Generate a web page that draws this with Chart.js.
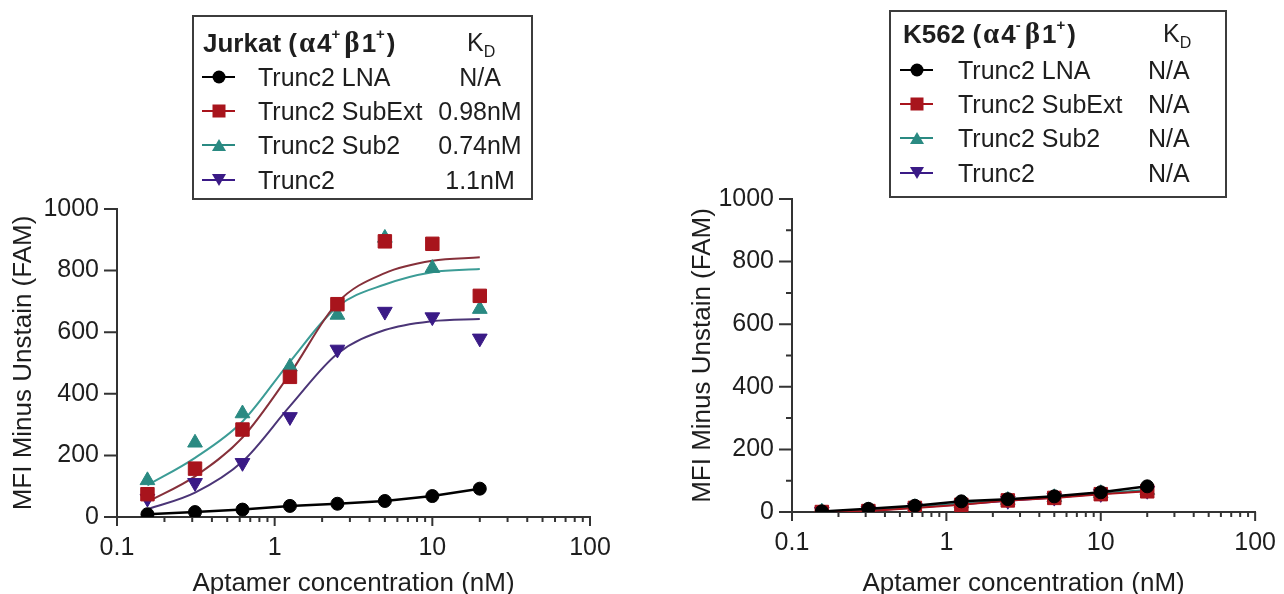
<!DOCTYPE html>
<html>
<head>
<meta charset="utf-8">
<script src="https://cdn.jsdelivr.net/npm/chart.js@4/dist/chart.umd.min.js"></script>
<style>
  body { margin: 0; width: 1284px; height: 594px; overflow: hidden; position: relative; background: #fff;
         font-family: "Liberation Sans", Arial, sans-serif; color: #1e1e1e; }
  canvas { position: absolute; top: 0; }
  .box { position: absolute; border: 2px solid #3c3c3c; box-sizing: border-box; }
  .txt { position: absolute; font-size: 25px; line-height: 1; white-space: nowrap; transform: translateY(-50%); }
  .txt b { font-size: 26px; }
  .gk { font-family: "Liberation Serif", serif; font-size: 29px; margin: 0 2px; }
  .txt sup { font-size: 15px; line-height: 0; position: relative; top: -3px; margin-right: 2px; }
  .txt sub { font-size: 16px; line-height: 0; }
  .sym { position: absolute; height: 2px; transform: translateY(-50%); }
  .mk { position: absolute; left: 50%; top: 50%; transform: translate(-50%, -50%); }
</style>
</head>
<body>
<canvas id="jurkat" width="640" height="594" style="left:0"></canvas>
<canvas id="k562" width="644" height="594" style="left:640px"></canvas>

<script>
// concentrations used in both titrations (nM)
const conc = [0.156, 0.3125, 0.625, 1.25, 2.5, 5, 10, 20];

const seriesNames = ['Trunc2 LNA', 'Trunc2 SubExt', 'Trunc2 Sub2', 'Trunc2'];
const kdJurkat = ['N/A', '0.98nM', '0.74nM', '1.1nM'];
const kdK562 = ['N/A', 'N/A', 'N/A', 'N/A'];

// Jurkat, measured MFI
const jurkatLNA = [9, 16, 24, 36, 43, 52, 68, 92];
const jurkatSubExt = [74, 157, 284, 455, 691, 895, 887, 718];
const jurkatSub2 = [119, 241, 336, 488, 656, 906, 808, 675];
const jurkatTrunc2 = [60, 111, 176, 325, 544, 667, 649, 580];

// Jurkat, binding fits
const fitSubExt = [49, 132, 258, 465, 696, 792, 832, 843];
const fitSub2 = [103, 192, 310, 504, 683, 755, 795, 805];
const fitTrunc2 = [25, 79, 180, 360, 530, 607, 636, 643];

// K562, measured MFI
const k562LNA = [2, 10, 20, 34, 41, 50, 63, 82];
const k562SubExt = [0, 3, 13, 23, 37, 45, 57, 66];
const k562Sub2 = [1, 5, 15, 27, 38, 47, 60, 70];
const k562Trunc2 = [1, 4, 14, 25, 36, 46, 58, 68];

const xTicks = [0.1, 1, 10, 100];
const xTickLabels = ['0.1', '1', '10', '100'];
const xMinor = [0.2, 0.3, 0.4, 0.5, 0.6, 0.7, 0.8, 0.9, 2, 3, 4, 5, 6, 7, 8, 9, 20, 30, 40, 50, 60, 70, 80, 90];
const yTicks = [0, 200, 400, 600, 800, 1000];
const yTickLabels = ['0', '200', '400', '600', '800', '1000'];
const yMinorK562 = [100, 300, 500, 700, 900];

const colors = ['#000000', '#a8141c', '#2a8a82', '#3a1a86'];
const fitColors = ['#000000', '#86303a', '#3c9c96', '#4b3577'];
const styles = ['circle', 'rect', 'triangle', 'triangle'];
const rotations = [0, 0, 0, 180];
const radii = [6.5, 9.5, 8.5, 8.5];

const pts = ys => conc.map((c, i) => ({ x: c, y: ys[i] }));

// tick marks drawn by hand so major and minor marks can differ in length
const tickMarks = {
  id: 'tickMarks',
  afterDraw(chart, args, o) {
    const ctx = chart.ctx, x = chart.scales.x, y = chart.scales.y;
    ctx.save();
    ctx.strokeStyle = '#333';
    ctx.lineWidth = 2;
    ctx.beginPath();
    xTicks.forEach(v => { const p = x.getPixelForValue(v); ctx.moveTo(p, x.top); ctx.lineTo(p, x.top + 9); });
    xMinor.forEach(v => { const p = x.getPixelForValue(v); ctx.moveTo(p, x.top); ctx.lineTo(p, x.top + 5); });
    yTicks.forEach(v => { const p = y.getPixelForValue(v); ctx.moveTo(y.right, p); ctx.lineTo(y.right - 13, p); });
    (o.yMinor || []).forEach(v => { const p = y.getPixelForValue(v); ctx.moveTo(y.right, p); ctx.lineTo(y.right - 6, p); });
    ctx.stroke();
    ctx.restore();
  }
};

function scatterSet(i, ys, line) {
  return {
    data: pts(ys),
    showLine: line,
    borderColor: colors[i],
    backgroundColor: colors[i],
    borderWidth: i === 0 ? 2.5 : 2,
    pointStyle: styles[i],
    pointRotation: rotations[i],
    pointRadius: radii[i],
    pointBorderWidth: 1,
    pointBackgroundColor: colors[i],
    pointBorderColor: colors[i]
  };
}

function fitSet(i, ys) {
  return {
    data: pts(ys),
    showLine: true,
    borderColor: fitColors[i],
    borderWidth: 2,
    pointRadius: 0,
    cubicInterpolationMode: 'monotone'
  };
}

function makeOptions(pad, xHeight, yWidth, yTitlePad, yMinor) {
  const font = { family: '"Liberation Sans", Arial, sans-serif', size: 25 };
  return {
    responsive: false,
    animation: false,
    devicePixelRatio: 1,
    layout: { padding: pad },
    plugins: { legend: { display: false }, tooltip: { enabled: false }, tickMarks: { yMinor: yMinor } },
    scales: {
      x: {
        type: 'logarithmic', min: 0.1, max: 100,
        afterBuildTicks: s => { s.ticks = xTicks.map(v => ({ value: v })); },
        afterFit: s => { s.height = xHeight; },
        grid: { display: false },
        border: { display: true, color: '#333', width: 2 },
        ticks: { font: font, color: '#1e1e1e', padding: 8, autoSkip: false, maxRotation: 0,
                 callback: (v, i) => xTickLabels[i] },
        title: { display: true, text: 'Aptamer concentration (nM)', color: '#1e1e1e',
                 font: { family: font.family, size: 26, lineHeight: 0.8 }, padding: { top: 0, bottom: 0 } }
      },
      y: {
        min: 0, max: 1000,
        afterBuildTicks: s => { s.ticks = yTicks.map(v => ({ value: v })); },
        afterFit: s => { s.width = yWidth; },
        grid: { display: false },
        border: { display: true, color: '#333', width: 2 },
        ticks: { font: font, color: '#1e1e1e', padding: 10, callback: (v, i) => yTickLabels[i] },
        title: { display: true, text: 'MFI Minus Unstain (FAM)', color: '#1e1e1e',
                 font: { family: font.family, size: 26, lineHeight: 1.2 }, padding: { top: yTitlePad, bottom: 0 } }
      }
    }
  };
}

new Chart(document.getElementById('jurkat'), {
  type: 'scatter',
  data: {
    datasets: [
      scatterSet(0, jurkatLNA, true),
      scatterSet(1, jurkatSubExt, false),
      scatterSet(2, jurkatSub2, false),
      scatterSet(3, jurkatTrunc2, false),
      fitSet(1, fitSubExt),
      fitSet(2, fitSub2),
      fitSet(3, fitTrunc2)
    ]
  },
  options: makeOptions({ top: 209, right: 50, bottom: 0, left: 0 }, 77, 117, 8, []),
  plugins: [tickMarks]
});

new Chart(document.getElementById('k562'), {
  type: 'scatter',
  data: {
    datasets: [
      scatterSet(0, k562LNA, true),
      scatterSet(1, k562SubExt, true),
      scatterSet(2, k562Sub2, true),
      scatterSet(3, k562Trunc2, true)
    ]
  },
  options: makeOptions({ top: 199, right: 22, bottom: 0, left: 0 }, 82, 152, 47, yMinorK562),
  plugins: [tickMarks]
});

// legend boxes
function marker(i) {
  const c = colors[i];
  if (i === 0) return `<div class="mk" style="width:13px;height:13px;border-radius:50%;background:${c}"></div>`;
  if (i === 1) return `<div class="mk" style="width:13px;height:13px;background:${c}"></div>`;
  if (i === 2) return `<div class="mk" style="width:0;height:0;border-left:7px solid transparent;border-right:7px solid transparent;border-bottom:12px solid ${c}"></div>`;
  return `<div class="mk" style="width:0;height:0;border-left:7px solid transparent;border-right:7px solid transparent;border-top:12px solid ${c}"></div>`;
}

function legend(k) {
  let html = `<div class="box" style="left:${k.left}px;top:${k.top}px;width:${k.w}px;height:${k.h}px"></div>`;
  html += `<div class="txt" style="left:${k.titleX}px;top:${k.titleY}px"><b>${k.title}</b></div>`;
  html += `<div class="txt" style="left:${k.kdX}px;top:${k.titleY}px">K<sub>D</sub></div>`;
  seriesNames.forEach((name, i) => {
    const y = k.rowY[i];
    html += `<div class="sym" style="left:${k.symX}px;top:${y}px;width:33px;background:${colors[i]}">${marker(i)}</div>`;
    html += `<div class="txt" style="left:${k.textX}px;top:${y}px">${name}</div>`;
    html += `<div class="txt" style="left:${k.valX}px;top:${y}px;${k.valStyle}">${k.kd[i]}</div>`;
  });
  document.body.insertAdjacentHTML('beforeend', html);
}

legend({
  left: 192, top: 15, w: 341, h: 185,
  title: 'Jurkat (<span class="gk">α</span>4<sup>+</sup><span class="gk">β</span>1<sup>+</sup>)',
  titleX: 203, titleY: 42, kdX: 467,
  rowY: [77, 111, 145, 180], symX: 202, textX: 258,
  valX: 480, valStyle: 'transform:translate(-50%,-50%)', kd: kdJurkat
});

legend({
  left: 889, top: 10, w: 338, h: 188,
  title: 'K562 (<span class="gk">α</span>4<sup>-</sup><span class="gk">β</span>1<sup>+</sup>)',
  titleX: 903, titleY: 33, kdX: 1163,
  rowY: [70, 104, 138, 173], symX: 900, textX: 958,
  valX: 1148, valStyle: '', kd: kdK562
});
</script>
</body>
</html>
